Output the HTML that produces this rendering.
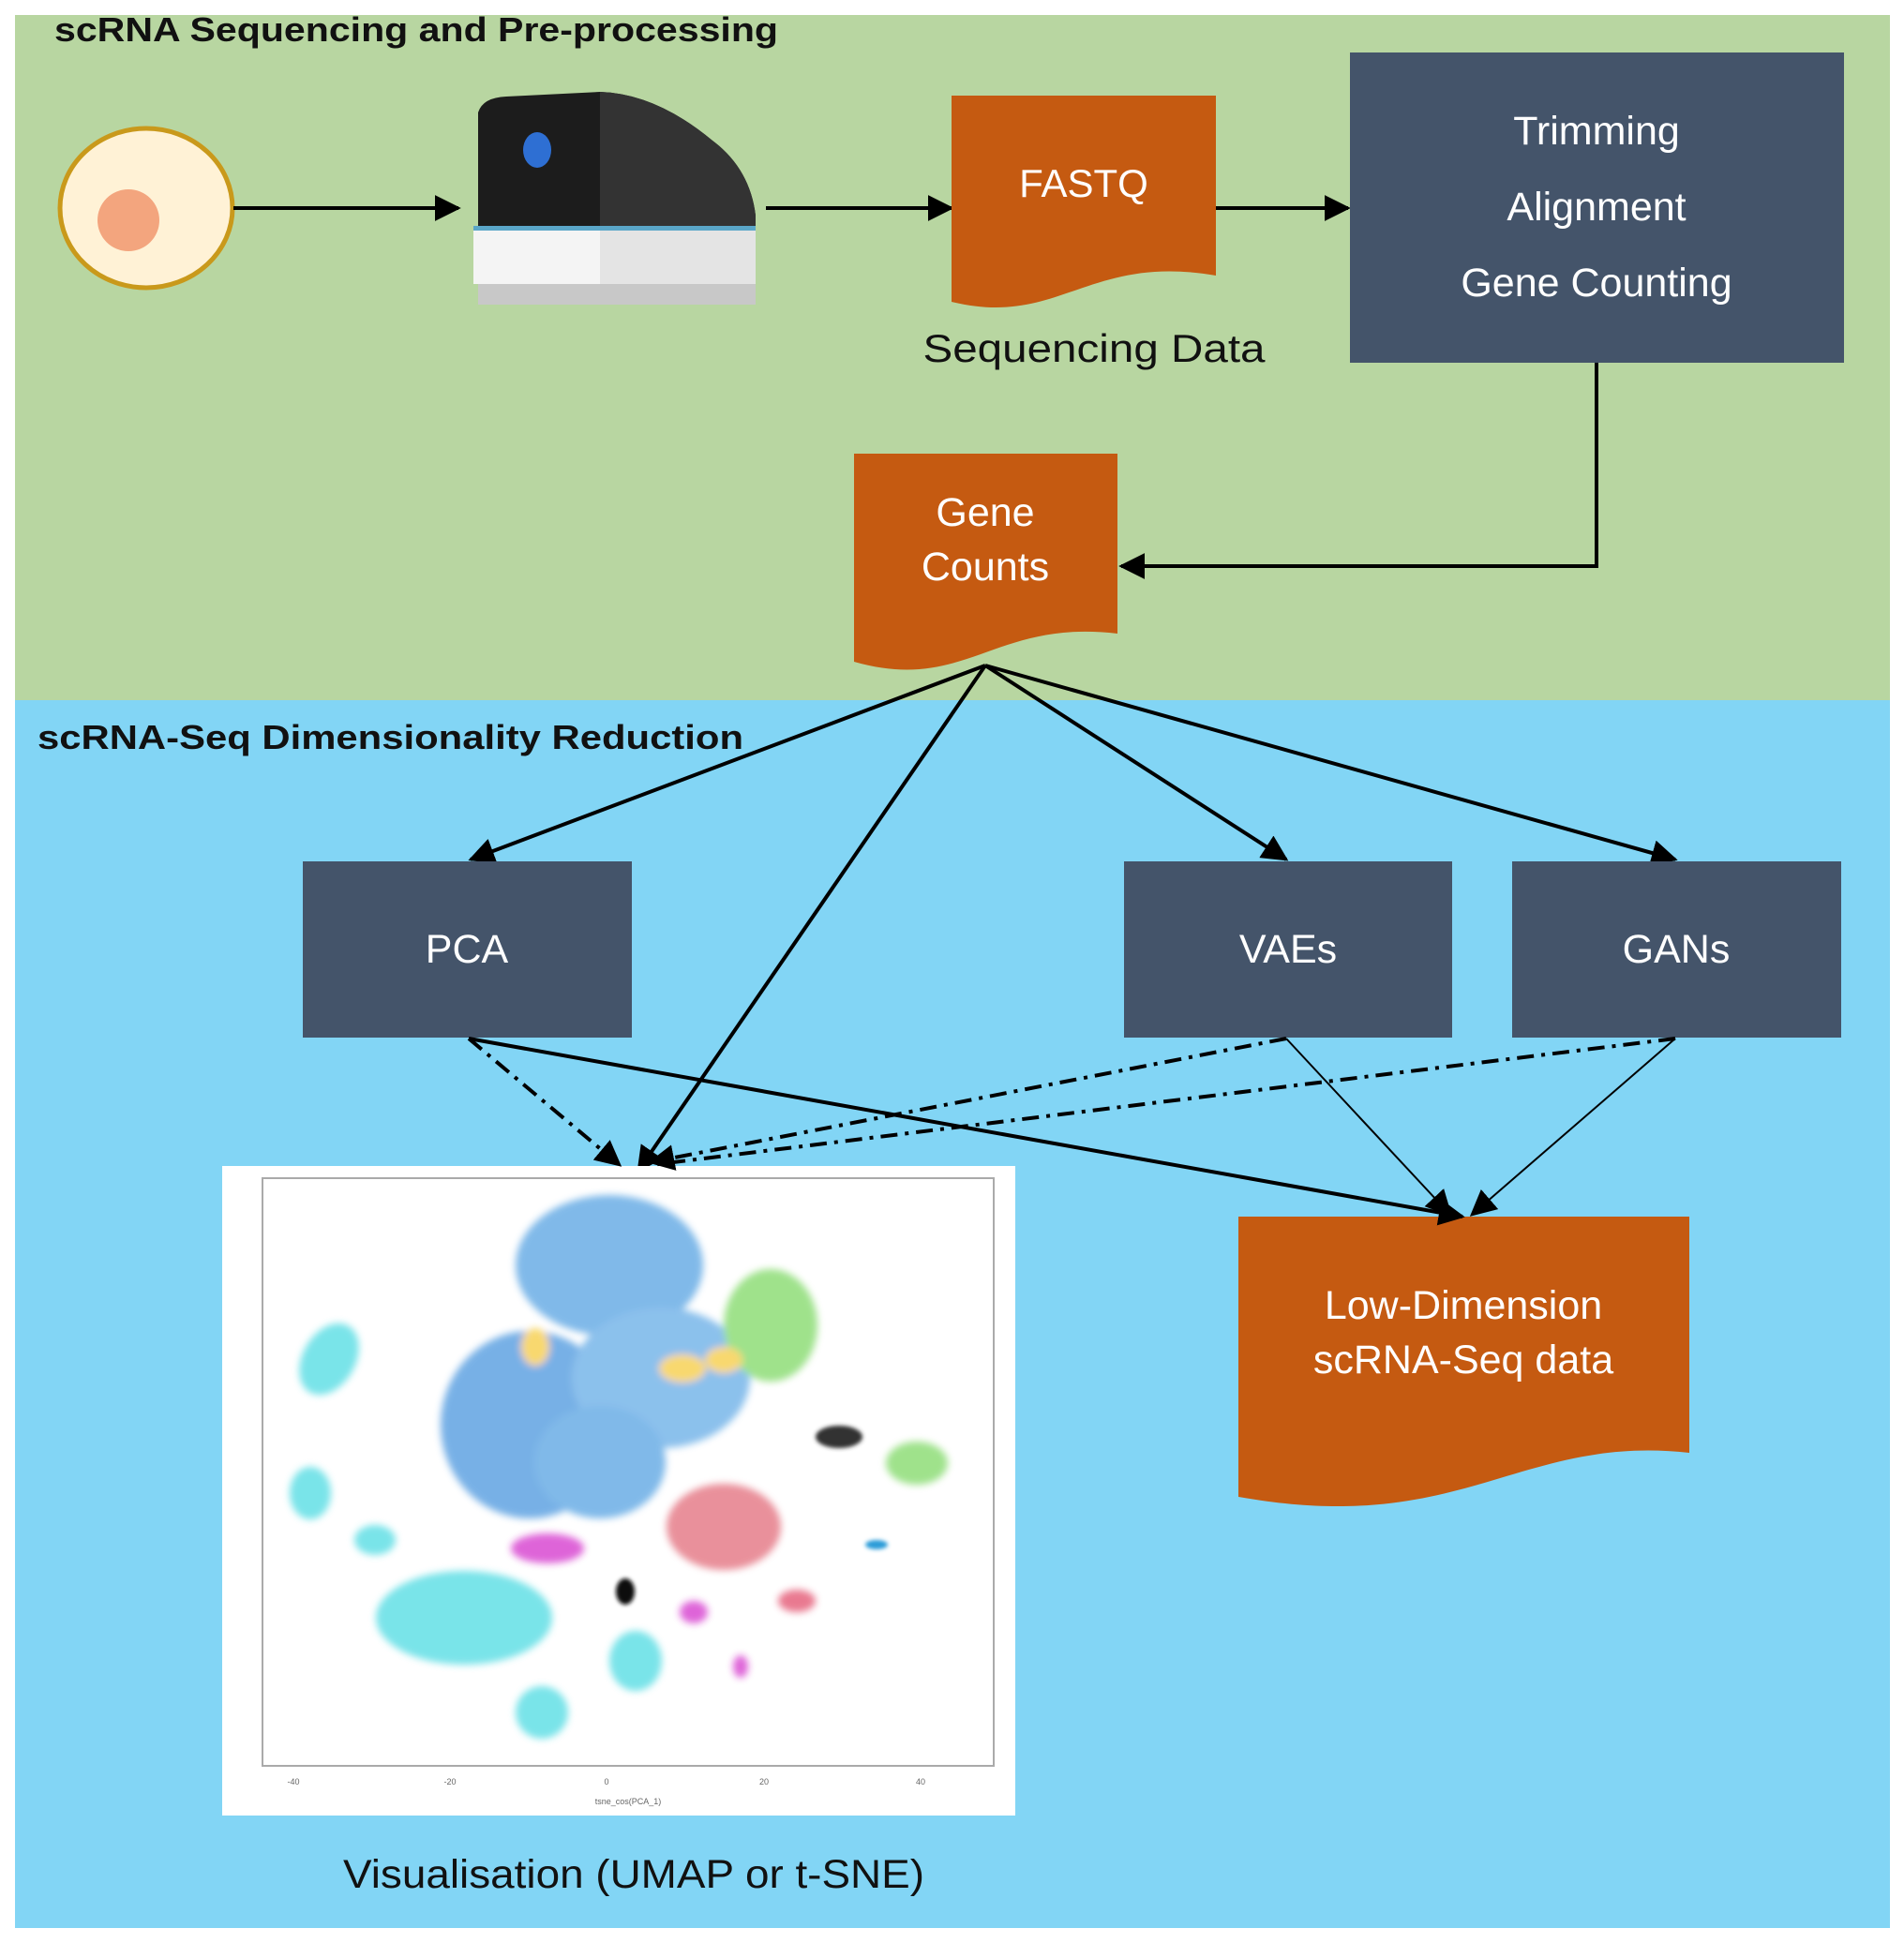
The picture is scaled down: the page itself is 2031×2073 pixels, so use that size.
<!DOCTYPE html>
<html><head><meta charset="utf-8"><style>
html,body{margin:0;padding:0;background:#fff}
svg{display:block}
text{font-family:"Liberation Sans",sans-serif}
</style></head><body>
<svg width="2031" height="2073" viewBox="0 0 2031 2073" xmlns="http://www.w3.org/2000/svg">
<defs>
<marker id="ah" viewBox="0 0 10 10" refX="9" refY="5" markerWidth="7" markerHeight="7" markerUnits="strokeWidth" orient="auto"><path d="M0,0 L10,5 L0,10 Z" fill="#000"/></marker>
<marker id="ah2" viewBox="0 0 10 10" refX="9" refY="5" markerWidth="14" markerHeight="14" markerUnits="strokeWidth" orient="auto"><path d="M0,0 L10,5 L0,10 Z" fill="#000"/></marker>
<filter id="bl"><feGaussianBlur stdDeviation="4"/></filter>
<filter id="bl2"><feGaussianBlur stdDeviation="2"/></filter>
</defs>
<rect x="16" y="16" width="2000" height="731" fill="#b8d6a1"/>
<rect x="16" y="747" width="2000" height="1310" fill="#82d5f5"/>
<text x="58" y="44" font-size="36" font-weight="bold" fill="#111" textLength="772" lengthAdjust="spacingAndGlyphs">scRNA Sequencing and Pre-processing</text>
<text x="40" y="799" font-size="36" font-weight="bold" fill="#111" textLength="753" lengthAdjust="spacingAndGlyphs">scRNA-Seq Dimensionality Reduction</text>

<!-- cell -->
<ellipse cx="156" cy="222" rx="92" ry="85" fill="#fff2d6" stroke="#c9991b" stroke-width="5"/>
<ellipse cx="137" cy="235" rx="33" ry="33" fill="#f3a57e"/>
<!-- sequencer -->
<g>
<path d="M510,120 Q515,104 540,103 L640,98 Q700,100 760,150 Q800,180 806,230 L806,245 L510,245 Z" fill="#1c1c1c"/>
<path d="M640,98 Q700,100 760,150 Q800,180 806,230 L806,245 L640,245 Z" fill="#333"/>
<rect x="505" y="245" width="301" height="58" fill="#f4f4f4"/>
<rect x="640" y="245" width="166" height="58" fill="#e4e4e4"/>
<rect x="505" y="241" width="301" height="5" fill="#5aa6c8"/>
<rect x="510" y="303" width="296" height="22" fill="#c8c8c8"/>
<ellipse cx="573" cy="160" rx="15" ry="19" fill="#2e6fd3"/>
</g>
<line x1="249" y1="222" x2="489" y2="222" stroke="#000" stroke-width="4" marker-end="url(#ah)"/>
<line x1="817" y1="222" x2="1015" y2="222" stroke="#000" stroke-width="4" marker-end="url(#ah)"/>
<line x1="1297" y1="222" x2="1438" y2="222" stroke="#000" stroke-width="4" marker-end="url(#ah)"/>

<!-- FASTQ -->
<path d="M1015,102 H1297 V294 C1160,270 1130,350 1015,322 Z" fill="#c55a11"/>
<text x="1156" y="210" font-size="42" fill="#fff" text-anchor="middle">FASTQ</text>
<text x="1167" y="386" font-size="42" fill="#111" text-anchor="middle" textLength="365" lengthAdjust="spacingAndGlyphs">Sequencing Data</text>

<!-- trimming box -->
<rect x="1440" y="56" width="527" height="331" fill="#44546a"/>
<text x="1703" y="154" font-size="43" fill="#fff" text-anchor="middle">Trimming</text>
<text x="1703" y="235" font-size="43" fill="#fff" text-anchor="middle">Alignment</text>
<text x="1703" y="316" font-size="43" fill="#fff" text-anchor="middle">Gene Counting</text>
<polyline points="1703,387 1703,604 1196,604" fill="none" stroke="#000" stroke-width="4" marker-end="url(#ah)"/>

<!-- Gene counts -->
<path d="M911,484 H1192 V676 C1060,660 1030,740 911,706 Z" fill="#c55a11"/>
<text x="1051" y="561" font-size="43" fill="#fff" text-anchor="middle">Gene</text>
<text x="1051" y="619" font-size="43" fill="#fff" text-anchor="middle">Counts</text>

<!-- fan arrows -->
<g stroke="#000" stroke-width="4" fill="none">
<line x1="1051" y1="710" x2="502" y2="917" marker-end="url(#ah)"/>
<line x1="1051" y1="710" x2="681" y2="1249" marker-end="url(#ah)"/>
<line x1="1051" y1="710" x2="1372" y2="917" marker-end="url(#ah)"/>
<line x1="1051" y1="710" x2="1787" y2="917" marker-end="url(#ah)"/>
</g>

<!-- method boxes -->
<rect x="323" y="919" width="351" height="188" fill="#44546a"/>
<rect x="1199" y="919" width="350" height="188" fill="#44546a"/>
<rect x="1613" y="919" width="351" height="188" fill="#44546a"/>
<text x="498" y="1027" font-size="43" fill="#fff" text-anchor="middle">PCA</text>
<text x="1374" y="1027" font-size="43" fill="#fff" text-anchor="middle">VAEs</text>
<text x="1788" y="1027" font-size="43" fill="#fff" text-anchor="middle">GANs</text>

<!-- Visualisation image -->
<rect x="237" y="1244" width="846" height="693" fill="#fff"/>
<rect x="280" y="1257" width="780" height="627" fill="none" stroke="#aaa" stroke-width="2"/>
<g filter="url(#bl)" opacity="0.7">
<ellipse cx="650" cy="1350" rx="100" ry="75" fill="#4a9be0"/>
<ellipse cx="565" cy="1520" rx="95" ry="100" fill="#3d8fdc"/>
<ellipse cx="705" cy="1470" rx="95" ry="75" fill="#5aa6e4"/>
<ellipse cx="640" cy="1560" rx="70" ry="60" fill="#4a9be0"/>
<ellipse cx="822" cy="1414" rx="50" ry="60" fill="#76d65a"/>
<ellipse cx="978" cy="1561" rx="33" ry="23" fill="#76d65a"/>
<ellipse cx="772" cy="1629" rx="61" ry="46" fill="#e06070"/>
<ellipse cx="850" cy="1708" rx="20" ry="12" fill="#e04060"/>
<ellipse cx="584" cy="1652" rx="39" ry="16" fill="#d020c8"/>
<ellipse cx="351" cy="1450" rx="28" ry="41" fill="#40d8e0" transform="rotate(30 351 1450)"/>
<ellipse cx="331" cy="1593" rx="22" ry="28" fill="#40d8e0"/>
<ellipse cx="400" cy="1643" rx="22" ry="16" fill="#40d8e0"/>
<ellipse cx="495" cy="1726" rx="94" ry="50" fill="#40d8e0"/>
<ellipse cx="678" cy="1772" rx="28" ry="32" fill="#40d8e0"/>
<ellipse cx="578" cy="1827" rx="28" ry="28" fill="#40d8e0"/>
<ellipse cx="728" cy="1460" rx="25" ry="15" fill="#f5c830"/>
<ellipse cx="571" cy="1437" rx="15" ry="20" fill="#f5c830"/>
<ellipse cx="772" cy="1451" rx="20" ry="14" fill="#f5c830"/>
<ellipse cx="740" cy="1720" rx="15" ry="12" fill="#d020c8"/>
<ellipse cx="790" cy="1778" rx="8" ry="12" fill="#d020c8"/>
</g>
<g filter="url(#bl2)">
<ellipse cx="667" cy="1698" rx="10" ry="14" fill="#111"/>
<ellipse cx="895" cy="1533" rx="25" ry="12" fill="#333"/>
<ellipse cx="935" cy="1648" rx="12" ry="5" fill="#2a9bd8"/>
</g>
<g font-size="9" fill="#666" text-anchor="middle">
<text x="313" y="1904">-40</text><text x="480" y="1904">-20</text><text x="647" y="1904">0</text><text x="815" y="1904">20</text><text x="982" y="1904">40</text>
<text x="670" y="1925">tsne_cos(PCA_1)</text>
</g>
<text x="676" y="2014" font-size="43" fill="#111" text-anchor="middle" textLength="620" lengthAdjust="spacingAndGlyphs">Visualisation (UMAP or t-SNE)</text>

<!-- Low-dim doc -->
<path d="M1321,1298 H1802 V1550 C1620,1530 1560,1640 1321,1597 Z" fill="#c55a11"/>
<text x="1561" y="1407" font-size="43" fill="#fff" text-anchor="middle">Low-Dimension</text>
<text x="1561" y="1465" font-size="43" fill="#fff" text-anchor="middle">scRNA-Seq data</text>

<!-- lower connectors -->
<g stroke="#000" fill="none">
<line x1="500" y1="1108" x2="661" y2="1243" stroke-width="4" stroke-dasharray="18,8,4,8" marker-end="url(#ah)"/>
<line x1="500" y1="1108" x2="1560" y2="1298" stroke-width="4" marker-end="url(#ah)"/>
<line x1="1372" y1="1108" x2="694" y2="1240" stroke-width="4" stroke-dasharray="18,8,4,8" marker-end="url(#ah)"/>
<line x1="1787" y1="1108" x2="694" y2="1243" stroke-width="4" stroke-dasharray="18,8,4,8"/>
<line x1="1372" y1="1108" x2="1547" y2="1296" stroke-width="2" marker-end="url(#ah2)"/>
<line x1="1787" y1="1108" x2="1570" y2="1296" stroke-width="2" marker-end="url(#ah2)"/>
</g>
</svg>
</body></html>
